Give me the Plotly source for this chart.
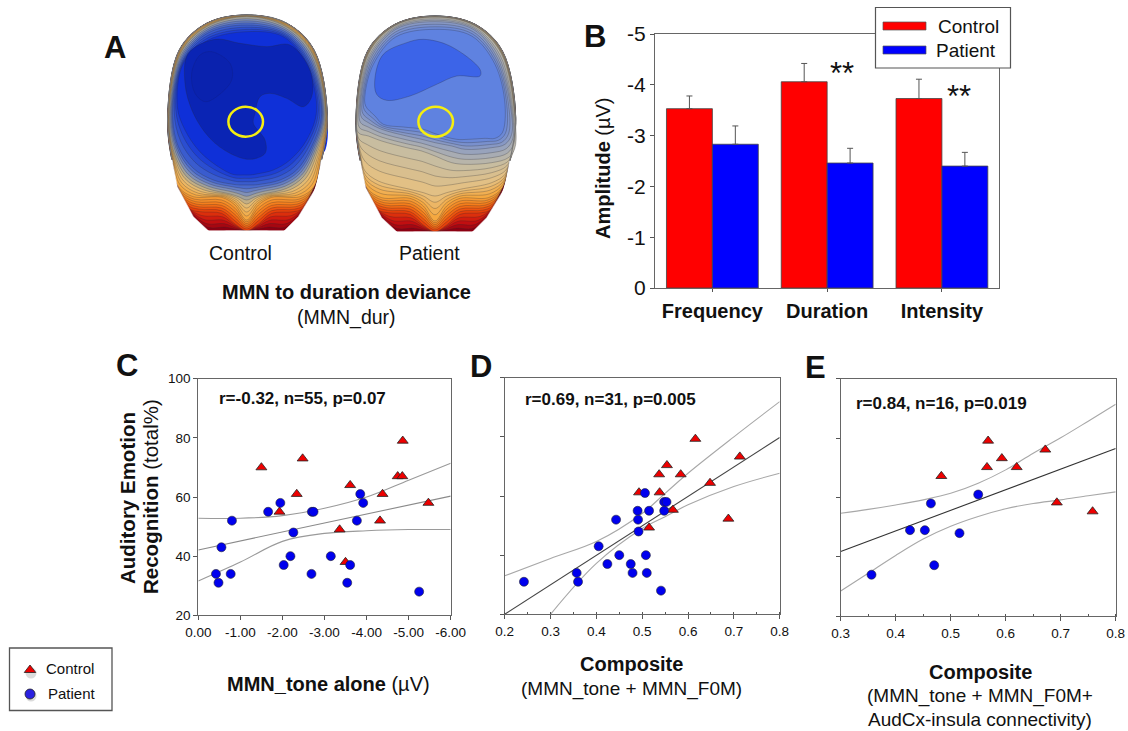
import plotly.graph_objects as go

W, H = 1128, 731
FONT = "Liberation Sans"

# ---------- Panel B ----------
measures = ["Frequency", "Duration", "Intensity"]
amp_control = [-3.53, -4.06, -3.73]
amp_patient = [-2.83, -2.46, -2.40]
err_control = [0.25, 0.36, 0.38]
err_patient = [0.36, 0.29, 0.27]
amp_ticks = [-5, -4, -3, -2, -1, 0]
amp_tick_text = ["-5", "-4", "-3", "-2", "-1", "0"]

# ---------- Panel C ----------
c_ctrl_x = [-1.50, -2.48, -2.34, -1.93, -3.61, -3.36, -3.50, -4.32, -4.38, -4.74, -4.85, -4.86, -5.47]
c_ctrl_y = [70, 73, 61, 55, 64, 49, 38, 52, 61, 67, 67, 79, 58]
c_pat_x = [-0.42, -0.48, -0.77, -0.80, -0.55, -1.66, -1.95, -2.03, -2.19, -2.26, -2.69, -2.70, -2.74, -3.15, -3.54, -3.61, -3.77, -3.85, -3.92, -5.25]
c_pat_y = [34, 31, 34, 52, 43, 55, 58, 37, 40, 48, 34, 55, 55, 40, 31, 37, 52, 61, 58, 28]
c_fit_x = [0, -6]
c_fit_y = [42.1, 60.3]
c_ci_x = [0, -1, -2, -3, -4, -5, -6]
c_up_y = [52.8, 52.8, 53.7, 56.2, 60.0, 65.7, 71.4]
c_lo_y = [31.6, 38.0, 45.0, 47.7, 48.6, 49.0, 49.0]
c_x_ticks = [0, -1, -2, -3, -4, -5, -6]
c_x_text = ["0.00", "-1.00", "-2.00", "-3.00", "-4.00", "-5.00", "-6.00"]
y_ticks = [20, 40, 60, 80, 100]

# ---------- Panel D ----------
d_ctrl_x = [.616, .713, .554, .537, .584, .648, .493, .538, .567, .688, .515]
d_ctrl_y = [79.3, 73.3, 70.4, 67.3, 67.3, 64.4, 61.2, 61.2, 55.3, 52.3, 49.3]
d_pat_x = [.242, .357, .360, .405, .424, .443, .450, .475, .479, .490, .491, .492, .506, .508, .510, .515, .541, .548, .553, .548]
d_pat_y = [31, 34, 31, 43, 37, 52, 40, 37, 34, 55, 52, 48, 61, 40, 34, 55, 28, 58, 58, 55]
d_fit_x = [.2, .8]
d_fit_y = [20, 79.8]
d_up_x = [.2, .3, .4, .5, .55, .6, .7, .8]
d_up_y = [33, 38.9, 44.6, 54.1, 60.9, 67.7, 80, 91.9]
d_lo_x = [.3, .4, .5, .55, .6, .7, .8]
d_lo_y = [20, 37.2, 49, 53, 57, 63.2, 67.7]
d_x_ticks = [.2, .3, .4, .5, .6, .7, .8]

# ---------- Panel E ----------
e_ctrl_x = [.483, .568, .566, .593, .620, .672, .693, .758]
e_ctrl_y = [67.2, 79.1, 70.2, 73.2, 70.2, 76.1, 58.3, 55.3]
e_pat_x = [.356, .426, .453, .464, .470, .516, .550]
e_pat_y = [34, 49, 49, 58, 37.2, 48, 61]
e_fit_x = [.3, .8]
e_fit_y = [41.8, 76.5]
e_ci_x = [.3, .35, .4, .45, .5, .55, .6, .65, .7, .75, .8]
e_up_y = [54.7, 56, 57.5, 59.2, 61.4, 64.8, 69.3, 74.9, 80.1, 85.7, 91.4]
e_lo_y = [28.5, 34.5, 40.5, 46, 50.3, 53.6, 56.2, 58, 59.2, 60.6, 61.9]
e_x_ticks = [.3, .4, .5, .6, .7, .8]

# ---------- Panel A: scalp map outlines (drawn by hand, zoomed picture units) ----------
KA = [(470,45),(590,70),(672,150),(712,350),(692,490),(660,600),(583,692),(530,692),(500,692),(470,692),(440,692),(410,692),(355,692),(275,600),(248,490),(233,350),(268,150),(350,70)]
KA2 = [(470,45),(590,70),(672,150),(712,350),(692,490),(637,625),(610,635),(545,640),(505,672),(470,692),(435,672),(395,640),(330,635),(298,625),(248,490),(233,350),(268,150),(350,70)]
KB = [(470,46),(590,71),(671,151),(711,350),(690,490),(672,560),(630,590),(545,592),(505,615),(470,660),(435,615),(395,592),(310,590),(265,560),(250,490),(234,350),(269,151),(350,71)]
KC = [(470,50),(588,80),(666,160),(706,350),(680,450),(640,530),(590,565),(520,582),(495,590),(470,600),(445,590),(420,582),(350,565),(290,530),(250,450),(238,350),(272,160),(350,80)]
KD = [(470,75),(585,100),(655,180),(695,340),(665,440),(620,510),(570,540),(510,553),(490,555),(470,555),(450,555),(430,553),(370,540),(310,505),(265,440),(248,340),(278,180),(352,100)]
KE = [(470,95),(580,110),(650,195),(680,330),(650,420),(600,480),(550,510),(500,522),(480,525),(460,525),(440,525),(420,520),(370,490),(325,450),(285,390),(262,320),(280,190),(355,120)]
C_NAVY = [(375,118),(450,130),(530,140),(600,135),(660,210),(665,290),(640,320),(590,295),(540,280),(510,290),(495,340),(490,370),(525,420),(525,460),(480,478),(420,460),(360,415),(310,340),(285,250),(295,160)]
C_LOBE = [(365,155),(420,190),(425,240),(380,290),(345,305),(315,280),(305,220),(330,165)]
PC = [(470,47),(590,72),(670,152),(710,350),(692,480),(680,520),(640,545),(545,565),(505,575),(470,585),(435,575),(395,565),(300,540),(260,510),(248,470),(235,350),(270,152),(350,72)]
PD = [(470,49),(588,74),(669,158),(709,345),(710,440),(690,470),(640,485),(560,490),(520,485),(470,465),(430,450),(385,440),(310,420),(270,405),(240,395),(236,340),(271,158),(350,74)]
PE = [(470,62),(585,85),(658,172),(697,320),(700,400),(680,430),(640,440),(560,445),(520,435),(470,425),(430,415),(385,405),(310,385),(270,365),(250,350),(246,320),(276,175),(352,85)]
PF = [(470,85),(580,105),(650,190),(680,310),(672,395),(650,412),(620,412),(570,415),(535,415),(470,398),(435,385),(375,378),(315,370),(290,345),(262,315),(260,280),(285,190),(352,108)]
P_TOP = [(435,115),(515,135),(605,205),(605,225),(535,225),(475,250),(395,285),(325,298),(295,280),(290,230),(315,160),(385,125)]
HEAD_RIM = [(248,490),(233,350),(268,150),(350,70),(470,45),(590,70),(672,150),(712,350),(692,490)]
C_SLIVER = [(702,375),(712,385),(706,450),(694,462)]
MASK_L = [(246,480),(262,560),(310,650),(355,692),(355,715),(200,715),(200,480)]
MASK_R = [(694,480),(680,560),(625,650),(583,692),(583,715),(740,715),(740,480)]
MASK_B = [(340,692),(600,692),(600,715),(340,715)]

CTRL_KEYS = [(KA, KA2, 5), (KA2, KB, 6), (KB, KC, 5), (KC, KD, 4), (KD, KE, 3)]
PAT_KEYS = [(KA, KA2, 5), (KA2, KB, 6), (KB, PC, 4), (PC, PD, 4), (PD, PE, 3), (PE, PF, 3)]
CTRL_RAMP = [(0, "#8c0012"), (.1, "#c81010"), (.22, "#e8400a"), (.33, "#f57a18"), (.48, "#f5a840"), (.6, "#e8bc70"), (.68, "#b0a890"), (.74, "#7f90b8"), (.82, "#4c6ccc"), (.9, "#2f52d0"), (1, "#0f30d8")]
PAT_RAMP = [(0, "#8c0012"), (.09, "#c81010"), (.2, "#e8400a"), (.31, "#f57a18"), (.44, "#f5a840"), (.58, "#e6c080"), (.72, "#c8bda0"), (.82, "#a0a8b8"), (.9, "#7f93c8"), (1, "#5f82e0")]


def lerp_color(ramp, t):
    for (t0, c0), (t1, c1) in zip(ramp, ramp[1:]):
        if t <= t1:
            f = (t - t0) / (t1 - t0)
            a = [int(c0[i:i + 2], 16) for i in (1, 3, 5)]
            b = [int(c1[i:i + 2], 16) for i in (1, 3, 5)]
            return "rgb(%d,%d,%d)" % tuple(round(p + (q - p) * f) for p, q in zip(a, b))
    return ramp[-1][1]


def dom(lo, hi, size):
    return [lo / size, hi / size]


fig = go.Figure()

AX = dict(
    automargin=False, showgrid=False, zeroline=False, showline=True, linecolor="#666", linewidth=1.2,
    mirror=True, ticks="outside", tickcolor="#555", ticklen=4, tickfont=dict(family=FONT, size=13.5, color="#111"),
)
MINOR = dict(ticks="inside", ticklen=2, tickcolor="#555", dtick=0.05, tick0=0)

layout = dict(
    template="none",
    width=W, height=H, autosize=False, margin=dict(l=0, r=0, t=0, b=0, pad=0),
    paper_bgcolor="white", plot_bgcolor="rgba(0,0,0,0)", showlegend=False,
    barmode="group", bargap=0.2, bargroupgap=0, font=dict(family=FONT),
    # B
    xaxis=dict(AX, domain=dom(655, 999.3, W), range=[-0.5, 2.5], tickmode="array", tickvals=[0, 1, 2],
               ticktext=["<b>%s</b>" % m for m in measures], tickfont=dict(family=FONT, size=20, color="#111"),
               anchor="y", ticklen=3, ticklabelstandoff=2),
    yaxis=dict(AX, domain=[1 - 288 / H, 1 - 34 / H], range=[0, -5], tickmode="array", tickvals=amp_ticks,
               ticktext=amp_tick_text, tickfont=dict(family=FONT, size=21, color="#111"), anchor="x"),
    # C
    xaxis2=dict(AX, domain=dom(198.3, 450.7, W), range=[0, -6], tickmode="array", tickvals=c_x_ticks, ticktext=c_x_text, anchor="y2"),
    yaxis2=dict(AX, domain=[1 - 615.3 / H, 1 - 378.7 / H], range=[20, 100], tickmode="array", tickvals=y_ticks, anchor="x2"),
    # D
    xaxis3=dict(AX, domain=dom(504.7, 779.7, W), range=[.2, .8], tickmode="array", tickvals=d_x_ticks, tickformat=".1f", minor=MINOR, anchor="y3"),
    yaxis3=dict(AX, domain=[1 - 614.3 / H, 1 - 377.7 / H], range=[20, 100], tickmode="array", tickvals=y_ticks, showticklabels=False, anchor="x3"),
    # E
    xaxis4=dict(AX, domain=dom(840.7, 1115.7, W), range=[.3, .8], tickmode="array", tickvals=e_x_ticks, tickformat=".1f", minor=MINOR, anchor="y4"),
    yaxis4=dict(AX, domain=[1 - 616.3 / H, 1 - 378.7 / H], range=[20, 100], tickmode="array", tickvals=y_ticks, showticklabels=False, anchor="x4"),
    # page overlay in pixels, for the scalp maps, labels and keys
    xaxis5=dict(domain=[0, 1], range=[0, W], visible=False, automargin=False, fixedrange=True, anchor="y5"),
    yaxis5=dict(domain=[0, 1], range=[H, 0], visible=False, automargin=False, fixedrange=True, anchor="x5"),
)

# ---------- bars ----------
for name, vals, errs, col in [("Control", amp_control, err_control, "#ff0000"), ("Patient", amp_patient, err_patient, "#0000ff")]:
    fig.add_trace(go.Bar(
        x=[0, 1, 2], y=vals, name=name, xaxis="x", yaxis="y",
        marker=dict(color=col, line=dict(color="#444", width=0.8)),
        error_y=dict(type="data", symmetric=False, array=[0, 0, 0], arrayminus=errs, color="#555", thickness=1, width=3),
    ))


# ---------- scatter panels ----------
def line(ax, ay, xs, ys, color, w=1.1, shape="spline"):
    fig.add_trace(go.Scatter(x=xs, y=ys, mode="lines", xaxis=ax, yaxis=ay, hoverinfo="skip",
                             line=dict(color=color, width=w, shape=shape)))


def pts(ax, ay, xs, ys, kind):
    if kind == "t":
        m = dict(symbol="triangle-up", size=9.5, color="#ee0000", line=dict(color="#222", width=0.8))
    else:
        m = dict(symbol="circle", size=9, color="#0000ee", line=dict(color="#223", width=0.6))
    fig.add_trace(go.Scatter(x=xs, y=ys, mode="markers", xaxis=ax, yaxis=ay, marker=m))


line("x2", "y2", c_ci_x, c_up_y, "#9a9a9a")
line("x2", "y2", c_ci_x, c_lo_y, "#9a9a9a")
line("x2", "y2", c_fit_x, c_fit_y, "#8a8a8a")
pts("x2", "y2", c_ctrl_x, c_ctrl_y, "t")
pts("x2", "y2", c_pat_x, c_pat_y, "c")

line("x3", "y3", d_up_x, d_up_y, "#a8a8a8")
line("x3", "y3", d_lo_x, d_lo_y, "#a8a8a8")
line("x3", "y3", d_fit_x, d_fit_y, "#444")
pts("x3", "y3", d_ctrl_x, d_ctrl_y, "t")
pts("x3", "y3", d_pat_x, d_pat_y, "c")

line("x4", "y4", e_ci_x, e_up_y, "#a8a8a8")
line("x4", "y4", e_ci_x, e_lo_y, "#a8a8a8")
line("x4", "y4", e_fit_x, e_fit_y, "#333")
pts("x4", "y4", e_ctrl_x, e_ctrl_y, "t")
pts("x4", "y4", e_pat_x, e_pat_y, "c")


# ---------- scalp maps ----------
def blob(pts_z, dx, dy, fill, edge="rgba(40,40,50,0.45)", w=0.6, shape="spline"):
    xs = [90 + (p[0] + dx) / 3 for p in pts_z] + [90 + (pts_z[0][0] + dx) / 3]
    ys = [(p[1] + dy) / 3 for p in pts_z] + [(pts_z[0][1] + dy) / 3]
    ln = dict(color=edge, width=w, shape=shape)
    if shape == "spline":
        ln["smoothing"] = 1.0
    fig.add_trace(go.Scatter(x=xs, y=ys, mode="lines", fill="toself", fillcolor=fill, xaxis="x5", yaxis="y5",
                             hoverinfo="skip", line=ln))


def head(keys, ramp, dx, dy):
    total = sum(k[2] for k in keys)
    n = 0
    blob(keys[0][0], dx, dy, lerp_color(ramp, 0), "rgba(0,0,0,0)")
    for a, b, steps in keys:
        for s in range(1, steps + 1):
            n += 1
            f = s / steps
            poly = [(p[0] + (q[0] - p[0]) * f, p[1] + (q[1] - p[1]) * f) for p, q in zip(a, b)]
            blob(poly, dx, dy, lerp_color(ramp, n / total))


def rim(dx, dy):
    xs = [90 + (p[0] + dx) / 3 for p in HEAD_RIM]
    ys = [(p[1] + dy) / 3 for p in HEAD_RIM]
    fig.add_trace(go.Scatter(x=xs, y=ys, mode="lines", xaxis="x5", yaxis="y5", hoverinfo="skip",
                             line=dict(color="#777", width=1.2, shape="spline", smoothing=1.0)))
    for m in (MASK_L, MASK_R, MASK_B):
        blob(m, dx, dy, "white", "white", 0.5, "linear")


def ring(cx, cy, rx, ry):
    return dict(type="circle", xref="x5", yref="y5", x0=cx - rx, x1=cx + rx, y0=cy - ry, y1=cy + ry,
                line=dict(color="#f5ee10", width=2.5), layer="above")


blob(C_SLIVER, 0, 0, "#1030f0", "rgba(0,0,0,0)")
head(CTRL_KEYS, CTRL_RAMP, 0, 0)
blob(C_NAVY, 0, 0, "#0a24b4")
blob(C_LOBE, 0, 0, "#0a22ae", "rgba(20,30,90,0.3)")
rim(0, 0)

head(PAT_KEYS, PAT_RAMP, 565, 3)
blob(P_TOP, 565, 3, "#3c64e8")
rim(565, 3)

# ---------- lower-left key ----------
fig.add_trace(go.Scatter(x=[31, 31], y=[673, 696], mode="markers", xaxis="x5", yaxis="y5", hoverinfo="skip",
                         marker=dict(symbol="circle", size=11, color="rgba(0,0,0,0.14)", line=dict(width=0))))
fig.add_trace(go.Scatter(x=[30], y=[670], mode="markers", xaxis="x5", yaxis="y5",
                         marker=dict(symbol="triangle-up", size=10, color="#ee0000", line=dict(color="#222", width=0.8))))
fig.add_trace(go.Scatter(x=[30], y=[694], mode="markers", xaxis="x5", yaxis="y5",
                         marker=dict(symbol="circle", size=10, color="#2a20e0", line=dict(color="#222", width=0.8))))

layout["shapes"] = [
    ring(245.7, 121.7, 17.3, 15), ring(435.7, 121.7, 17.3, 15),
    dict(type="rect", xref="x5", yref="y5", x0=875.5, x1=1010.5, y0=7.5, y1=68, fillcolor="white", line=dict(color="#555", width=1.2), layer="above"),
    dict(type="rect", xref="x5", yref="y5", x0=883, x1=926, y0=22, y1=30, fillcolor="#ff0000", line=dict(color="#555", width=0.7), layer="above"),
    dict(type="rect", xref="x5", yref="y5", x0=883, x1=926, y0=46, y1=54, fillcolor="#0000ff", line=dict(color="#555", width=0.7), layer="above"),
    dict(type="rect", xref="x5", yref="y5", x0=9.5, x1=112, y0=648, y1=710.5, fillcolor="rgba(0,0,0,0)", line=dict(color="#555", width=1.3), layer="above"),
]


def note(x, y, text, size, angle=0, anchor="center", color="#111"):
    return dict(x=x, y=y, xref="x5", yref="y5", text=text, showarrow=False, xanchor=anchor, yanchor="middle",
                textangle=angle, font=dict(family=FONT, size=size, color=color), align="center")


layout["annotations"] = [
    note(115, 47, "<b>A</b>", 31), note(595, 36, "<b>B</b>", 31), note(127, 365, "<b>C</b>", 31),
    note(481, 366, "<b>D</b>", 31), note(815, 367, "<b>E</b>", 31),
    note(240, 253, "Control", 19.5), note(429, 253, "Patient", 19.5),
    note(346, 292, "<b>MMN to duration deviance</b>", 20), note(346, 317, "(MMN_dur)", 19.5),
    note(603, 168, "<b>Amplitude</b> (µV)", 20, angle=-90),
    note(842, 73, "**", 31), note(959, 96, "**", 31),
    note(968, 26, "Control", 19), note(966, 50, "Patient", 19),
    note(127, 498, "<b>Auditory Emotion</b>", 20.5, angle=-90),
    note(150, 497, "<b>Recognition</b> (total%)", 20.5, angle=-90),
    note(302, 398, "<b>r=-0.32, n=55, p=0.07</b>", 17, anchor="center"),
    note(610, 399, "<b>r=0.69, n=31, p=0.005</b>", 17),
    note(941, 403, "<b>r=0.84, n=16, p=0.019</b>", 17),
    note(70, 668, "Control", 15), note(72, 693, "Patient", 15),
    note(328, 684, "<b>MMN_tone alone</b> (µV)", 20),
    note(631, 664, "<b>Composite</b>", 20), note(631, 689, "(MMN_tone + MMN_F0M)", 19),
    note(980, 672, "<b>Composite</b>", 20), note(980, 696, "(MMN_tone + MMN_F0M+", 19), note(980, 719, "AudCx-insula connectivity)", 19),
]

fig.update_layout(**layout)
fig.write_html("out.html", config={"displayModeBar": False},
               post_script="document.body.style.margin='0';document.documentElement.style.overflow='hidden';")
